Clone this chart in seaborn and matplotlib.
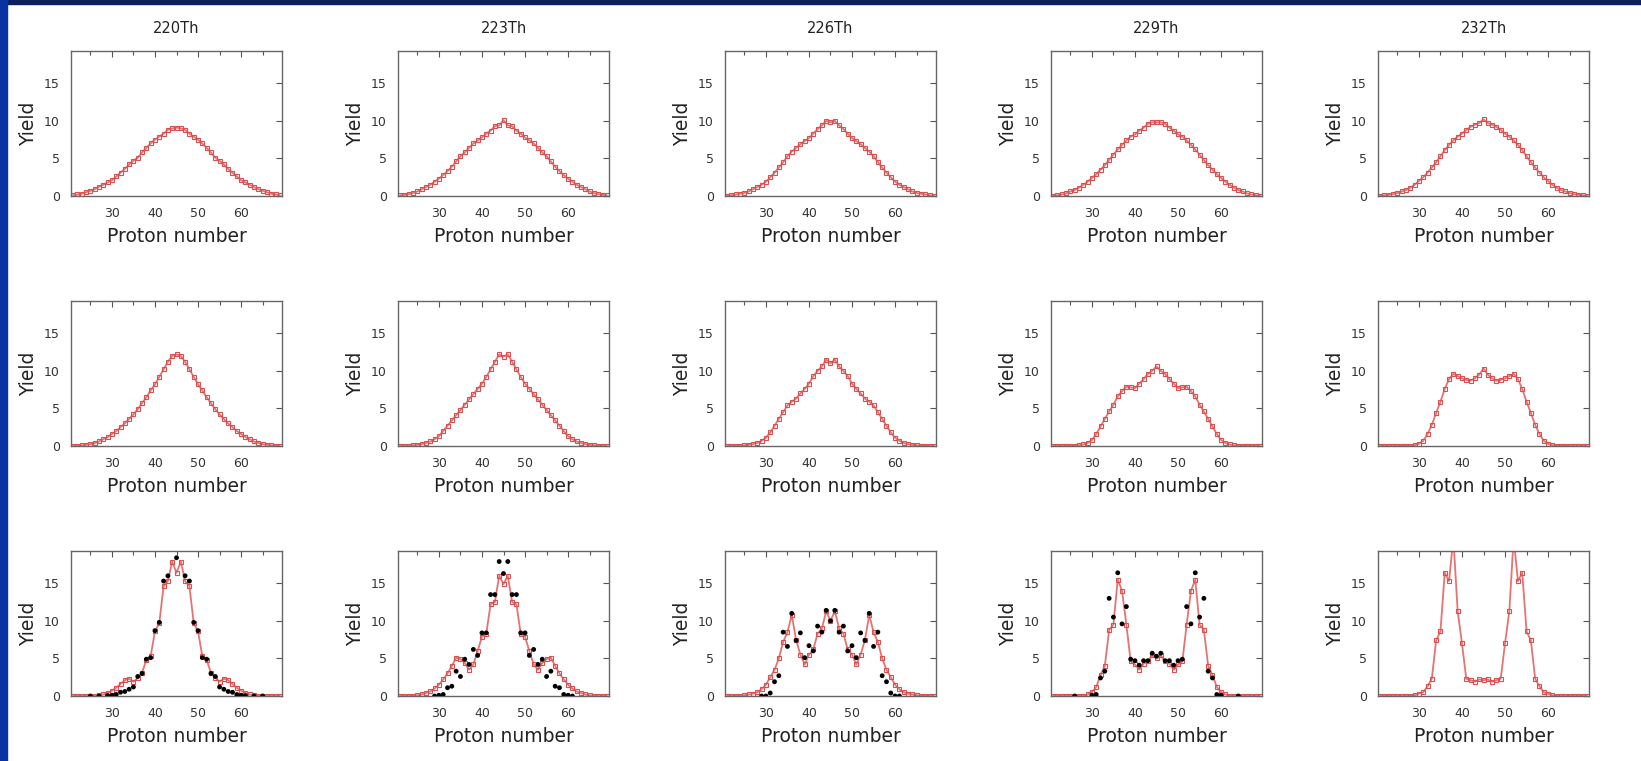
import numpy as np
import pandas as pd
import matplotlib
matplotlib.use("Agg")
import matplotlib.pyplot as plt
from matplotlib.patches import Rectangle
from matplotlib.ticker import MultipleLocator
import seaborn as sns

# === 1. Data ===
isotopes = ["220Th", "223Th", "226Th", "229Th", "232Th"]
z = list(range(21, 70))

# row 1
row1_220 = [0.1, 0.2, 0.3, 0.5, 0.7, 0.9, 1.2, 1.5, 1.8, 2.1, 2.6, 3.1, 3.6, 4.2, 4.7, 5.1, 5.8, 6.4, 7.0, 7.5, 7.9, 8.3, 8.8, 9.0, 9.1,
            9.0, 8.8, 8.3, 7.9, 7.5, 7.0, 6.4, 5.8, 5.1, 4.7, 4.2, 3.6, 3.1, 2.6, 2.1, 1.8, 1.5, 1.2, 0.9, 0.7, 0.5, 0.3, 0.2, 0.1]
row1_223 = [0.1, 0.15, 0.25, 0.4, 0.6, 0.9, 1.2, 1.5, 1.9, 2.3, 2.8, 3.3, 3.9, 4.6, 5.3, 5.8, 6.4, 7.0, 7.4, 7.8, 8.3, 8.7, 9.3, 9.4, 10.1,
            9.4, 9.3, 8.7, 8.3, 7.8, 7.4, 7.0, 6.4, 5.8, 5.3, 4.6, 3.9, 3.3, 2.8, 2.3, 1.9, 1.5, 1.2, 0.9, 0.6, 0.4, 0.25, 0.15, 0.1]
row1_226 = [0.05, 0.1, 0.2, 0.3, 0.4, 0.6, 0.9, 1.2, 1.5, 1.9, 2.5, 3.1, 3.8, 4.5, 5.3, 5.9, 6.4, 6.9, 7.3, 7.7, 8.3, 8.9, 9.4, 10.0, 9.8,
            10.0, 9.4, 8.9, 8.3, 7.7, 7.3, 6.9, 6.4, 5.9, 5.3, 4.5, 3.8, 3.1, 2.5, 1.9, 1.5, 1.2, 0.9, 0.6, 0.4, 0.3, 0.2, 0.1, 0.05]
row1_229 = [0.05, 0.1, 0.2, 0.35, 0.6, 0.8, 1.1, 1.5, 1.9, 2.4, 2.9, 3.5, 4.1, 4.8, 5.5, 6.2, 6.8, 7.4, 7.9, 8.2, 8.7, 9.1, 9.6, 9.8, 9.8,
            9.8, 9.6, 9.1, 8.7, 8.2, 7.9, 7.4, 6.8, 6.2, 5.5, 4.8, 4.1, 3.5, 2.9, 2.4, 1.9, 1.5, 1.1, 0.8, 0.6, 0.35, 0.2, 0.1, 0.05]
row1_232 = [0.05, 0.1, 0.15, 0.25, 0.4, 0.6, 0.8, 1.1, 1.5, 2.0, 2.5, 3.1, 3.8, 4.5, 5.3, 6.1, 6.8, 7.4, 7.9, 8.3, 8.8, 9.2, 9.5, 9.7, 10.2,
            9.7, 9.5, 9.2, 8.8, 8.3, 7.9, 7.4, 6.8, 6.1, 5.3, 4.5, 3.8, 3.1, 2.5, 2.0, 1.5, 1.1, 0.8, 0.6, 0.4, 0.25, 0.15, 0.1, 0.05]

# row 2
row2_220 = [0.0, 0.05, 0.1, 0.15, 0.25, 0.4, 0.6, 0.9, 1.2, 1.6, 2.0, 2.5, 3.0, 3.6, 4.2, 4.9, 5.7, 6.5, 7.4, 8.2, 9.2, 10.2, 11.2, 12.0, 12.2,
            12.0, 11.2, 10.2, 9.2, 8.2, 7.4, 6.5, 5.7, 4.9, 4.2, 3.6, 3.0, 2.5, 2.0, 1.6, 1.2, 0.9, 0.6, 0.4, 0.25, 0.15, 0.1, 0.05, 0.0]
row2_223 = [0.0, 0.0, 0.05, 0.1, 0.15, 0.25, 0.4, 0.6, 0.9, 1.3, 2.0, 2.7, 3.4, 4.1, 4.8, 5.5, 6.2, 6.9, 7.6, 8.3, 9.2, 10.2, 11.2, 12.2, 11.9,
            12.2, 11.2, 10.2, 9.2, 8.3, 7.6, 6.9, 6.2, 5.5, 4.8, 4.1, 3.4, 2.7, 2.0, 1.3, 0.9, 0.6, 0.4, 0.25, 0.15, 0.1, 0.05, 0.0, 0.0]
row2_226 = [0.0, 0.0, 0.02, 0.05, 0.1, 0.15, 0.25, 0.4, 0.7, 1.1, 1.8, 2.7, 3.6, 4.5, 5.4, 5.9, 6.3, 7.0, 7.6, 8.3, 9.3, 10.0, 10.6, 11.5, 11.0,
            11.5, 10.6, 10.0, 9.3, 8.3, 7.6, 7.0, 6.3, 5.9, 5.4, 4.5, 3.6, 2.7, 1.8, 1.1, 0.7, 0.4, 0.25, 0.15, 0.1, 0.05, 0.02, 0.0, 0.0]
row2_229 = [0.0, 0.0, 0.0, 0.02, 0.03, 0.05, 0.1, 0.2, 0.4, 0.8, 1.6, 2.6, 3.6, 4.6, 5.5, 6.6, 7.3, 7.9, 7.8, 7.7, 8.3, 8.9, 9.6, 10.0, 10.6,
            10.0, 9.6, 8.9, 8.3, 7.7, 7.8, 7.9, 7.3, 6.6, 5.5, 4.6, 3.6, 2.6, 1.6, 0.8, 0.4, 0.2, 0.1, 0.05, 0.03, 0.02, 0.0, 0.0, 0.0]
row2_232 = [0.0, 0.0, 0.0, 0.0, 0.0, 0.02, 0.03, 0.05, 0.1, 0.3, 0.7, 1.6, 2.8, 4.4, 5.9, 7.6, 8.9, 9.6, 9.3, 9.0, 8.8, 8.7, 9.0, 9.5, 10.3,
            9.5, 9.0, 8.7, 8.8, 9.0, 9.3, 9.6, 8.9, 7.6, 5.9, 4.4, 2.8, 1.6, 0.7, 0.3, 0.1, 0.05, 0.03, 0.02, 0.0, 0.0, 0.0, 0.0, 0.0]

# row 3 (calculation, red)
row3_220 = [0.0, 0.0, 0.0, 0.0, 0.02, 0.05, 0.1, 0.2, 0.4, 0.7, 1.1, 1.6, 2.1, 2.3, 1.9, 2.4, 3.1, 4.8, 5.3, 8.6, 9.7, 14.6, 15.3, 17.9, 16.4,
            17.9, 15.3, 14.6, 9.7, 8.6, 5.3, 4.8, 3.1, 2.4, 1.9, 2.3, 2.1, 1.6, 1.1, 0.7, 0.4, 0.2, 0.1, 0.05, 0.02, 0.0, 0.0, 0.0, 0.0]
row3_223 = [0.0, 0.0, 0.0, 0.05, 0.1, 0.2, 0.4, 0.6, 1.0, 1.5, 2.2, 3.0, 4.0, 5.1, 4.9, 4.4, 3.5, 4.2, 6.0, 7.9, 8.3, 12.2, 12.5, 16.0, 14.9,
            16.0, 12.5, 12.2, 8.3, 7.9, 6.0, 4.2, 3.5, 4.4, 4.9, 5.1, 4.0, 3.0, 2.2, 1.5, 1.0, 0.6, 0.4, 0.2, 0.1, 0.05, 0.0, 0.0, 0.0]
row3_226 = [0.0, 0.0, 0.02, 0.05, 0.1, 0.2, 0.3, 0.5, 0.9, 1.5, 2.5, 3.5, 5.0, 7.2, 8.5, 10.8, 7.5, 5.5, 4.2, 5.5, 6.2, 8.3, 9.0, 11.3, 10.0,
            11.3, 9.0, 8.3, 6.2, 5.5, 4.2, 5.5, 7.5, 10.8, 8.5, 7.2, 5.0, 3.5, 2.5, 1.5, 0.9, 0.5, 0.3, 0.2, 0.1, 0.05, 0.02, 0.0, 0.0]
row3_229 = [0.0, 0.0, 0.0, 0.0, 0.0, 0.0, 0.02, 0.05, 0.2, 0.5, 1.2, 2.8, 4.0, 8.8, 9.5, 15.5, 14.0, 9.5, 4.6, 4.2, 3.5, 4.3, 4.6, 5.4, 5.0,
            5.4, 4.6, 4.3, 3.5, 4.2, 4.6, 9.5, 14.0, 15.5, 9.5, 8.8, 4.0, 2.8, 1.2, 0.5, 0.2, 0.05, 0.02, 0.0, 0.0, 0.0, 0.0, 0.0, 0.0]
row3_232 = [0.0, 0.0, 0.0, 0.0, 0.0, 0.0, 0.0, 0.02, 0.1, 0.3, 0.5, 1.3, 2.3, 7.4, 8.6, 16.4, 15.3, 21.0, 11.3, 7.0, 2.3, 2.1, 1.9, 2.2, 2.1,
            2.2, 1.9, 2.1, 2.3, 7.0, 11.3, 21.0, 15.3, 16.4, 8.6, 7.4, 2.3, 1.3, 0.5, 0.3, 0.1, 0.02, 0.0, 0.0, 0.0, 0.0, 0.0, 0.0, 0.0]

# row 3 experiment (black dots)
exp_z_220 = [25, 27, 29, 30, 31, 32, 33, 34, 35, 36, 37, 38, 39, 40, 41, 42, 43, 45, 47, 48, 49, 50, 51, 52, 53, 54, 55, 56, 57, 58, 59, 60, 61, 63, 65]
exp_y_220 = [0.0, 0.0, 0.05, 0.1, 0.2, 0.5, 0.6, 0.9, 1.2, 2.6, 3.0, 4.9, 5.1, 8.7, 9.8, 15.3, 16.0, 18.4, 16.0, 15.3, 9.8, 8.7, 5.1, 4.9, 3.0, 2.6, 1.2, 0.9, 0.6, 0.5, 0.2, 0.1, 0.05, 0.0, 0.0]
exp_z_223 = list(range(29, 62))
exp_y_223 = [0.0, 0.1, 0.2, 1.1, 1.3, 3.3, 2.6, 4.9, 4.2, 6.2, 5.4, 8.4, 8.4, 13.5, 13.5, 17.9, 16.3, 17.9, 13.5, 13.5, 8.4, 8.4, 5.4, 6.2, 4.2, 4.9, 2.6, 3.3, 1.3, 1.1, 0.2, 0.1, 0.0]
exp_z_226 = list(range(29, 62))
exp_y_226 = [0.0, 0.0, 0.4, 1.9, 2.7, 8.5, 6.6, 11.0, 7.4, 8.4, 5.1, 6.7, 6.0, 9.3, 8.5, 11.4, 10.0, 11.4, 8.5, 9.3, 6.0, 6.7, 5.1, 8.4, 7.4, 11.0, 6.6, 8.5, 2.7, 1.9, 0.4, 0.0, 0.0]
exp_z_229 = [26] + list(range(30, 61)) + [64]
exp_y_229 = [0.0, 0.1, 0.2, 2.4, 3.3, 13.0, 10.5, 16.4, 9.6, 11.9, 4.9, 4.7, 4.1, 4.7, 4.7, 5.7, 5.3, 5.7, 4.7, 4.7, 4.1, 4.7, 4.9, 11.9, 9.6, 16.4, 10.5, 13.0, 3.3, 2.4, 0.2, 0.1, 0.0]

rows = [
    [row1_220, row1_223, row1_226, row1_229, row1_232],
    [row2_220, row2_223, row2_226, row2_229, row2_232],
    [row3_220, row3_223, row3_226, row3_229, row3_232],
]
exp = [(exp_z_220, exp_y_220), (exp_z_223, exp_y_223), (exp_z_226, exp_y_226), (exp_z_229, exp_y_229), None]

# === 2. Style ===
sns.set_style("white")
plt.rcParams["font.family"] = ["DejaVu Sans"]

W, H = 1641, 761
fig = plt.figure(figsize=(W / 100, H / 100), dpi=100)
fig.patch.set_facecolor("white")

# slide border (top + left)
fig.patches.append(Rectangle((0, 1 - 4 / H), 1, 4 / H, transform=fig.transFigure, color="#0b1f5c", zorder=0))
fig.patches.append(Rectangle((0, 0), 7 / W, 1, transform=fig.transFigure, color="#0833a0", zorder=0))

col_left = [71, 398, 725, 1051, 1378]
row_top = [51, 301, 551]
ax_w, ax_h = 211, 145

red_line = "#e67373"
red_mark = "#d95050"

for r in range(3):
    for c in range(5):
        ax = fig.add_axes([col_left[c] / W, 1 - (row_top[r] + ax_h) / H, ax_w / W, ax_h / H])
        df = pd.DataFrame({"Z": z, "Yield": rows[r][c]})
        sns.lineplot(data=df, x="Z", y="Yield", ax=ax, color=red_line, linewidth=1.3,
                     marker="s", markersize=3.2, markerfacecolor="none",
                     markeredgecolor=red_mark, markeredgewidth=0.8, zorder=2)
        if r == 2 and exp[c] is not None:
            ez, ey = exp[c]
            sns.scatterplot(x=ez, y=ey, ax=ax, color="black", s=12, edgecolor="none", zorder=3)

        ax.set_xlim(20.5, 69.5)
        ax.set_ylim(0, 19.3)
        ax.xaxis.set_minor_locator(MultipleLocator(5))
        ax.set_xticks([30, 40, 50, 60])
        ax.set_yticks([0, 5, 10, 15])
        ax.tick_params(which="both", direction="in", top=True, right=True,
                       length=4, width=0.8, color="#555555", labelsize=9, labelcolor="#333333", pad=8)
        ax.tick_params(which="minor", length=3)
        for s in ax.spines.values():
            s.set_color("#666666")
            s.set_linewidth(1.0)
        ax.set_xlabel("Proton number", fontsize=13.5, color="#222222", labelpad=5)
        ax.set_ylabel("Yield", fontsize=13.5, color="#222222", labelpad=4)
        if r == 0:
            ax.set_title(isotopes[c], fontsize=10.5, color="#222222", pad=13)

fig.savefig("out.png", dpi=100, facecolor=fig.get_facecolor())
